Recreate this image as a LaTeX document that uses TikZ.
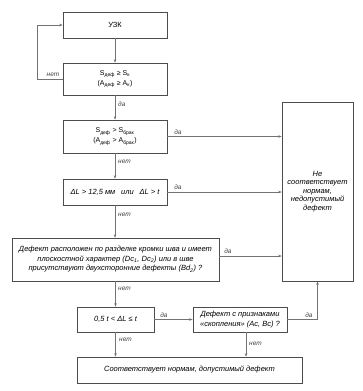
\documentclass[tikz,border=0pt]{standalone}
\usepackage{fontspec}
\setmainfont{Liberation Sans}
\usetikzlibrary{arrows.meta}
\begin{document}
\begin{tikzpicture}[x=1pt,y=-1pt,
  box/.style={draw=black!70, line width=0.6pt, inner sep=0pt, align=center, font=\fontsize{7.5}{9.5}\selectfont\itshape},
  arr/.style={draw=black!55, line width=0.5pt, -{Stealth[length=3.5pt,width=2.5pt]}},
  lbl/.style={font=\fontsize{6.5}{8}\selectfont\itshape, text=black!75, inner sep=1pt}
]
\useasboundingbox (0,0) rectangle (362,391);
\node[box, minimum width=104pt, minimum height=26pt, font=\fontsize{7.5}{9.5}\selectfont] (uzk) at (115,25) {УЗК};
\node[box, minimum width=104pt, minimum height=32pt, font=\fontsize{7}{10}\selectfont] (c1) at (115,79)
  {S\textsubscript{деф} ≥ S\textsubscript{к}\\(A\textsubscript{деф} ≥ A\textsubscript{к})};
\node[box, minimum width=104pt, minimum height=33pt, font=\fontsize{7}{10}\selectfont] (c2) at (115,136.5)
  {S\textsubscript{деф} > S\textsubscript{брак}\\(A\textsubscript{деф} > A\textsubscript{брак})};
\node[box, minimum width=104pt, minimum height=26pt] (c3) at (115,192)
  {ΔL > 12,5 мм \enskip или \enskip ΔL > t};
\node[box, minimum width=207pt, minimum height=43pt] (c4) at (115.5,259.5)
  {Дефект расположен по разделке кромки шва и имеет\\плоскостной характер (Dc\textsubscript{1}, Dc\textsubscript{2}) или в шве\\присутствуют двухсторонние дефекты (Bd\textsubscript{2}) ?};
\node[box, minimum width=77pt, minimum height=25pt] (c5) at (115.5,319.5)
  {0,5 t < ΔL ≤ t};
\node[box, minimum width=94pt, minimum height=25pt] (c6) at (240,319.5)
  {Дефект с признаками\\«скопления» (Ac, Bc) ?};
\node[box, minimum width=225pt, minimum height=26pt] (ok) at (189.5,370)
  {Соответствует нормам, допустимый дефект};
\node[box, minimum width=71pt, minimum height=179pt, font=\fontsize{7.5}{8.5}\selectfont\itshape] (bad) at (317.5,191.5)
  {Не\\соответствует\\нормам,\\недопустимый\\дефект};
% connectors
\draw[arr] (uzk) -- (c1);
\coordinate (lp) at (37,79);
\draw[arr] (c1.west) -- (lp) |- (uzk.west);
\node[lbl] (n0) at (53,75) {нет};
\draw[arr] (c1) -- (c2);
\node[lbl, anchor=west] (d1) at (117,104) {да};
\draw[arr] (c2) -- (c3);
\node[lbl, anchor=west] (n1) at (117,162) {нет};
\draw[arr] (c2.east) -- (c2.east -| bad.west);
\node[lbl] (d2) at (178,132) {да};
\draw[arr] (c3.east) -- (c3.east -| bad.west);
\node[lbl] (d3) at (178,187) {да};
\draw[arr] (c3) -- (c3 |- c4.north);
\node[lbl, anchor=west] (n2) at (117,215) {нет};
\coordinate (c4r) at (219,256);
\draw[arr] (c4r) -- (c4r -| bad.west);
\node[lbl] (d4) at (228,251.5) {да};
\draw[arr] (c4.south -| c5) -- (c5);
\node[lbl, anchor=west] (n3) at (117,289) {нет};
\draw[arr] (c5) -- (c6);
\node[lbl] (d5) at (164,315) {да};
\coordinate (rc) at (bad.south |- c6.east);
\draw[arr] (c6.east) -- (rc) -- (bad.south);
\node[lbl] (d6) at (309,315) {да};
\draw[arr] (c5) -- (c5 |- ok.north);
\node[lbl, anchor=west] (n4) at (118,340) {нет};
\coordinate (c6b) at (246,332);
\draw[arr] (c6b) -- (c6b |- ok.north);
\node[lbl, anchor=west] (n5) at (248,344) {нет};
\end{tikzpicture}
\end{document}
